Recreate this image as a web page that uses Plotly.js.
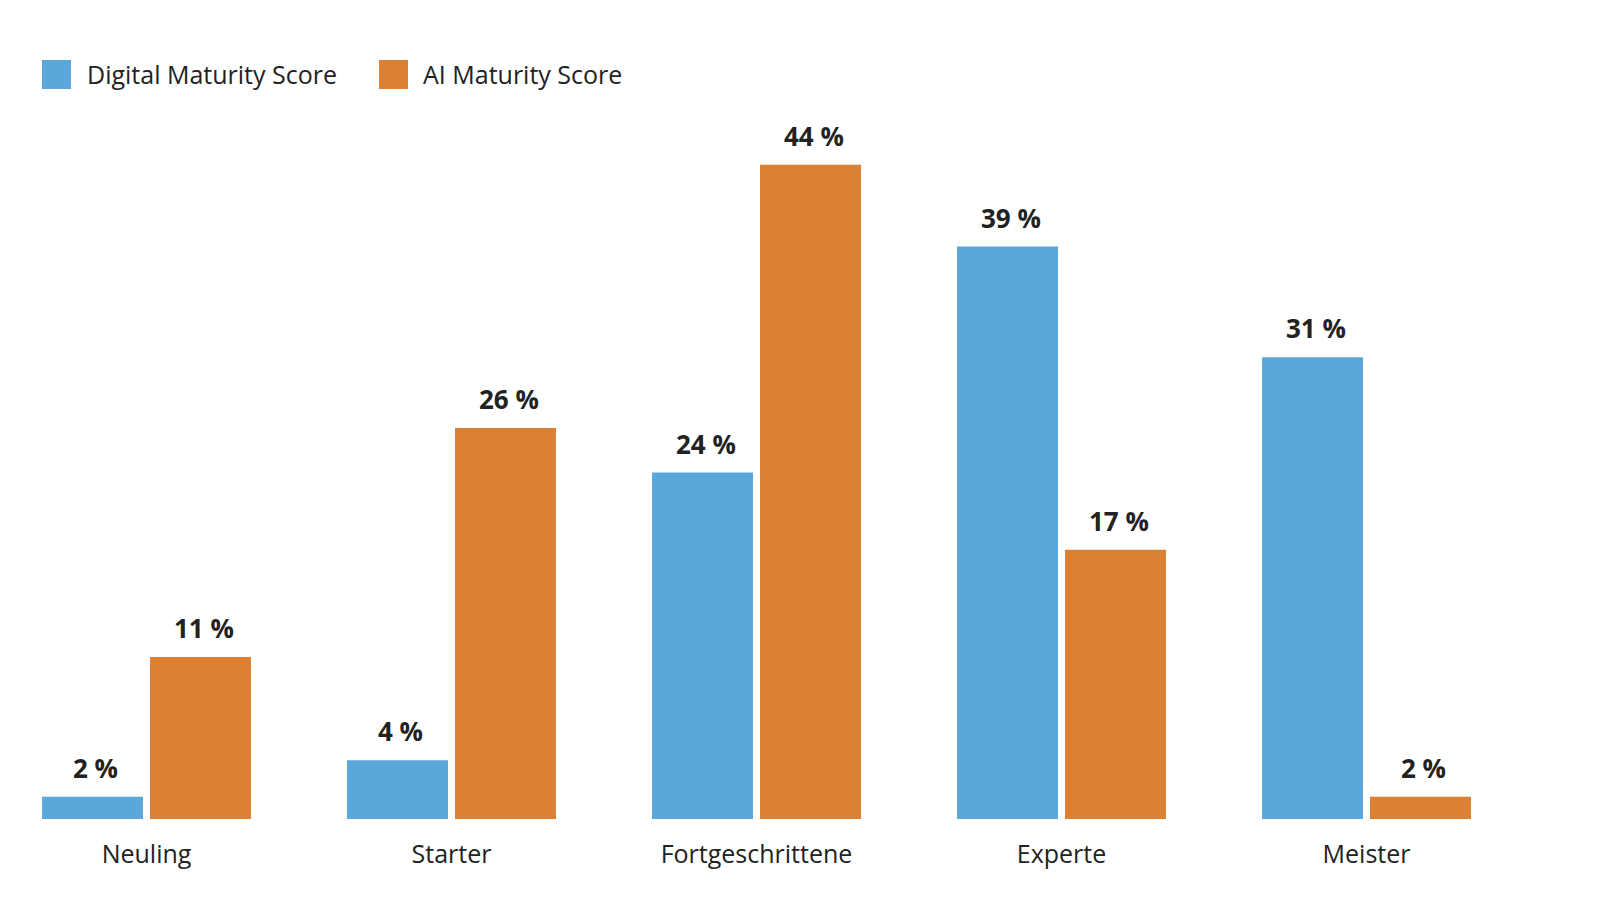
<!DOCTYPE html>
<html>
<head>
<meta charset="utf-8">
<script src="https://cdn.plot.ly/plotly-3.0.1.min.js"></script>
<style>html,body{margin:0;padding:0;background:#fff}#chart{width:1624px;height:909px}</style>
</head>
<body>
<div id="chart"></div>
<script>
const categories = ["Neuling", "Starter", "Fortgeschrittene", "Experte", "Meister"];
const seriesNames = ["Digital Maturity Score", "AI Maturity Score"];
const digitalValues = [1.5, 3.95, 23.3, 38.5, 31.05];
const aiValues = [10.9, 26.3, 44.0, 18.1, 1.5];
const digitalLabels = ["2 %", "4 %", "24 %", "39 %", "31 %"];
const aiLabels = ["11 %", "26 %", "44 %", "17 %", "2 %"];
const colors = ["#5ba7da", "#db8135"];

const FONT = "Open Sans, sans-serif";
const W = 1624, H = 909, ML = 0, MR = 100, MT = 100, MB = 90;
const plotW = W - ML - MR, plotH = H - MT - MB;
const catPx = 305, firstCenter = 146.5;
const xMin = -(firstCenter - ML) / catPx;
const xMax = xMin + plotW / catPx;
const pxPerUnit = 14.87;
const yMax = plotH / pxPerUnit;

const traces = [
  {type: "bar", name: seriesNames[0], x: categories, y: digitalValues, marker: {color: colors[0]}, hoverinfo: "none"},
  {type: "bar", name: seriesNames[1], x: categories, y: aiValues, marker: {color: colors[1]}, hoverinfo: "none"}
];

const annotations = [];
const labelFont = {family: FONT, size: 26, color: "#222222", weight: 700};
categories.forEach((c, i) => {
  annotations.push({x: c, y: digitalValues[i], xref: "x", yref: "y", text: "<b>" + digitalLabels[i] + "</b>",
    showarrow: false, xanchor: "center", yanchor: "bottom", xshift: -51, yshift: 9, font: labelFont});
  annotations.push({x: c, y: aiValues[i], xref: "x", yref: "y", text: "<b>" + aiLabels[i] + "</b>",
    showarrow: false, xanchor: "center", yanchor: "bottom", xshift: 57, yshift: 9, font: labelFont});
});

// manual legend
const px2x = p => (p - ML) / plotW;
const py2y = p => (H - MB - p) / plotH;
const legendItems = [{sq: 42, tx: 85}, {sq: 379, tx: 421}];
const shapes = [];
legendItems.forEach((it, i) => {
  shapes.push({type: "rect", xref: "paper", yref: "paper", x0: px2x(it.sq), x1: px2x(it.sq + 29),
    y0: py2y(89), y1: py2y(60), fillcolor: colors[i], line: {width: 0}});
  annotations.push({xref: "paper", yref: "paper", x: px2x(it.tx), y: py2y(74.5), text: seriesNames[i],
    showarrow: false, xanchor: "left", yanchor: "middle", font: {family: FONT, size: 25, color: "#222222"}});
});

const layout = {
  width: W, height: H,
  margin: {l: ML, r: MR, t: MT, b: MB},
  paper_bgcolor: "#ffffff", plot_bgcolor: "#ffffff",
  showlegend: false,
  barmode: "group", bargap: 0.292, bargroupgap: 0.065,
  xaxis: {type: "category", range: [xMin, xMax], showgrid: false, zeroline: false, showline: false,
    ticks: "", ticklabelstandoff: 18, tickfont: {family: FONT, size: 25, color: "#222222"}, fixedrange: true},
  yaxis: {range: [0, yMax], visible: false, showgrid: false, zeroline: false, fixedrange: true},
  annotations: annotations,
  shapes: shapes,
  font: {family: FONT}
};

Plotly.newPlot("chart", traces, layout, {displayModeBar: false, staticPlot: true});
</script>
</body>
</html>
